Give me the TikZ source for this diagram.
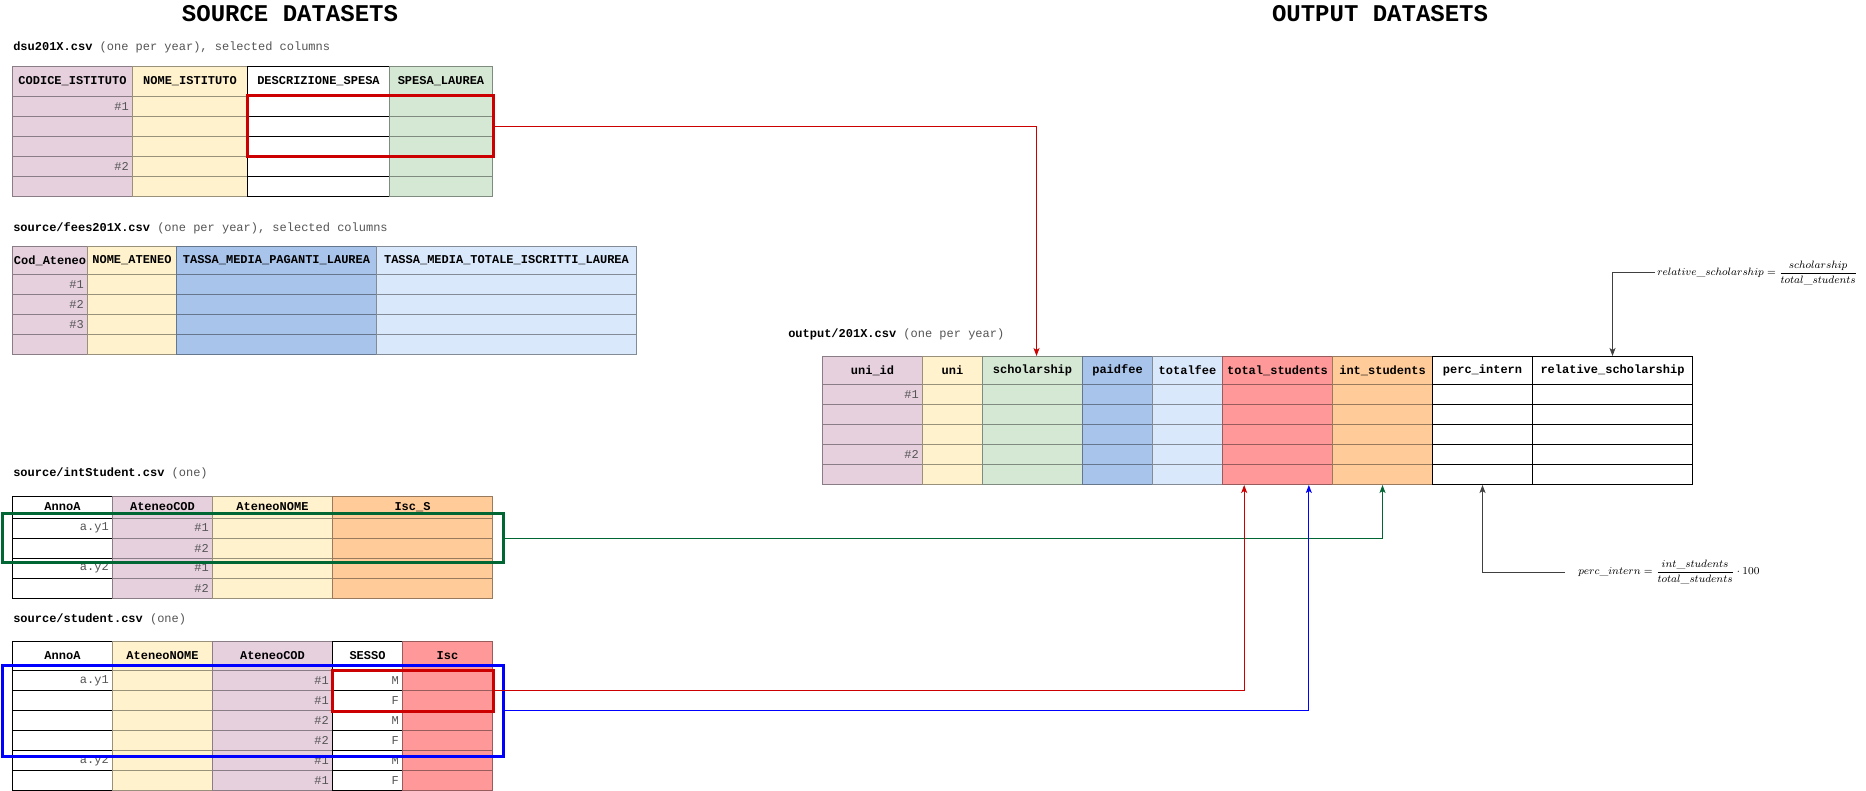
\documentclass[tikz,border=0pt]{standalone}
\usepackage{fontspec}
\newfontfamily\csvfont{Liberation Mono}
\usetikzlibrary{arrows.meta}
\usetikzlibrary{positioning}
\usetikzlibrary{fit}

\definecolor{pinkc}{HTML}{E6D0DE}
\definecolor{yellowc}{HTML}{FFF2CC}
\definecolor{greenc}{HTML}{D5E8D4}
\definecolor{bluec}{HTML}{A9C4EB}
\definecolor{lbluec}{HTML}{DAE8FC}
\definecolor{orangec}{HTML}{FFCC99}
\definecolor{redc}{HTML}{FF9999}
\colorlet{pinkd}{pinkc!60!black}
\colorlet{yellowd}{yellowc!60!black}
\colorlet{greend}{greenc!60!black}
\colorlet{blued}{bluec!60!black}
\colorlet{lblued}{lbluec!60!black}
\colorlet{oranged}{orangec!60!black}
\colorlet{redd}{redc!60!black}
\definecolor{valgray}{HTML}{555555}
\definecolor{hlred}{HTML}{CC0000}
\definecolor{hlgreen}{HTML}{006633}
\definecolor{hlblue}{HTML}{0000FF}

\begin{document}
\begin{tikzpicture}[x=0.75pt,y=-0.75pt,>={Stealth[length=6pt,width=4.5pt,inset=1.5pt]},
  hdr/.style={rectangle,anchor=north west,inner sep=0pt,line width=0.75pt,
    font=\csvfont\bfseries\fontsize{9}{10}\selectfont},
  cell/.style={rectangle,anchor=north west,inner sep=0pt,line width=0.75pt,minimum height=15pt},
  val/.style={anchor=east,inner xsep=3pt,inner ysep=0pt,text=valgray,
    font=\csvfont\fontsize{9}{10}\selectfont},
  capt/.style={anchor=west,inner sep=0pt,font=\csvfont\fontsize{9}{10}\selectfont},
  bigtitle/.style={inner sep=0pt,font=\csvfont\bfseries\fontsize{18}{20}\selectfont},
  hl/.style={rectangle,inner sep=0pt,line width=2.25pt},
  link/.style={->,line width=0.75pt},
  formula/.style={anchor=west,inner ysep=0pt,font=\fontsize{8.3}{10}\selectfont}]

  \path[fill=white] (0,0) rectangle (1866,791);
  \useasboundingbox (0,0) rectangle (1866,791);

  % titles
  \node[bigtitle] (t-src) at (290,13.5) {SOURCE DATASETS};
  \node[bigtitle] (t-out) at (1380,13.5) {OUTPUT DATASETS};

  % dsu201X.csv
  \node[capt] (c-dsu) at (13,47) {\textbf{dsu201X.csv} \textcolor{valgray}{(one per year), selected columns}};
  \foreach \cx/\cw/\cf/\cb/\ct [count=\i] in {12/120/pinkc/pinkd/CODICE\_ISTITUTO,
      132/115/yellowc/yellowd/NOME\_ISTITUTO, 247/142/white/black/DESCRIZIONE\_SPESA,
      389/103/greenc/greend/SPESA\_LAUREA}{
    \node[hdr,fill=\cf,draw=\cb,minimum width=\cw*0.75pt,minimum height=22.5pt] (dsu-\i) at (\cx,66) {\ct};
    \foreach \r in {1,...,5}
      \node[cell,fill=\cf,draw=\cb,minimum width=\cw*0.75pt] (dsu-\i-\r) at (\cx,{76+20*\r}) {};
  }
  \foreach \r/\v in {1/\#1,4/\#2}
    \node[val] (dsu-v\r) at (dsu-1-\r.east) {\v};

  % fees201X.csv
  \node[capt] (c-fees) at (13,228) {\textbf{source/fees201X.csv} \textcolor{valgray}{(one per year), selected columns}};
  \foreach \cx/\cw/\cf/\cb/\ct [count=\i] in {12/75/pinkc/pinkd/Cod\_Ateneo,
      87/89/yellowc/yellowd/NOME\_ATENEO, 176/200/bluec/blued/TASSA\_MEDIA\_PAGANTI\_LAUREA,
      376/260/lbluec/lblued/TASSA\_MEDIA\_TOTALE\_ISCRITTI\_LAUREA}{
    \node[hdr,fill=\cf,draw=\cb,minimum width=\cw*0.75pt,minimum height=21pt] (fees-\i) at (\cx,246) {\ct};
    \foreach \r in {1,...,4}
      \node[cell,fill=\cf,draw=\cb,minimum width=\cw*0.75pt] (fees-\i-\r) at (\cx,{254+20*\r}) {};
  }
  \foreach \r/\v in {1/\#1,2/\#2,3/\#3}
    \node[val] (fees-v\r) at (fees-1-\r.east) {\v};

  % intStudent.csv
  \node[capt] (c-int) at (13,473) {\textbf{source/intStudent.csv} \textcolor{valgray}{(one)}};
  \foreach \cx/\cw/\cf/\cb/\ct [count=\i] in {12/100/white/black/AnnoA,
      112/100/pinkc/pinkd/AteneoCOD, 212/120/yellowc/yellowd/AteneoNOME,
      332/160/orangec/oranged/Isc\_S}{
    \node[hdr,fill=\cf,draw=\cb,minimum width=\cw*0.75pt,minimum height=16.5pt] (int-\i) at (\cx,495.5) {\ct};
    \foreach \r in {1,...,4}
      \node[cell,fill=\cf,draw=\cb,minimum width=\cw*0.75pt] (int-\i-\r) at (\cx,{497.5+20*\r}) {};
  }
  \foreach \r/\v in {1/a.y1,3/a.y2}
    \node[val] (int-va\r) at (int-1-\r.east) {\v};
  \foreach \r/\v in {1/\#1,2/\#2,3/\#1,4/\#2}
    \node[val] (int-vb\r) at (int-2-\r.east) {\v};

  % student.csv
  \node[capt] (c-stu) at (13,619.5) {\textbf{source/student.csv} \textcolor{valgray}{(one)}};
  \foreach \cx/\cw/\cf/\cb/\ct [count=\i] in {12/100/white/black/AnnoA,
      112/100/yellowc/yellowd/AteneoNOME, 212/120/pinkc/pinkd/AteneoCOD,
      332/70/white/black/SESSO, 402/90/redc/redd/Isc}{
    \node[hdr,fill=\cf,draw=\cb,minimum width=\cw*0.75pt,minimum height=21.75pt] (stu-\i) at (\cx,641) {\ct};
    \foreach \r in {1,...,6}
      \node[cell,fill=\cf,draw=\cb,minimum width=\cw*0.75pt] (stu-\i-\r) at (\cx,{650+20*\r}) {};
  }
  \foreach \r/\v in {1/a.y1,5/a.y2}
    \node[val] (stu-va\r) at (stu-1-\r.east) {\v};
  \foreach \r/\v in {1/\#1,2/\#1,3/\#2,4/\#2,5/\#1,6/\#1}
    \node[val] (stu-vc\r) at (stu-3-\r.east) {\v};
  \foreach \r/\v in {1/M,2/F,3/M,4/F,5/M,6/F}
    \node[val] (stu-vs\r) at (stu-4-\r.east) {\v};

  % output/201X.csv
  \node[capt] (c-out) at (788,334) {\textbf{output/201X.csv} \textcolor{valgray}{(one per year)}};
  \foreach \cx/\cw/\cf/\cb/\ct [count=\i] in {822/100/pinkc/pinkd/uni\_id,
      922/60/yellowc/yellowd/uni, 982/100/greenc/greend/scholarship,
      1082/70/bluec/blued/paidfee, 1152/70/lbluec/lblued/totalfee,
      1222/110/redc/redd/total\_students, 1332/100/orangec/oranged/int\_students,
      1432/100/white/black/perc\_intern, 1532/160/white/black/relative\_scholarship}{
    \node[hdr,fill=\cf,draw=\cb,minimum width=\cw*0.75pt,minimum height=21pt] (out-\i) at (\cx,356) {\ct};
    \foreach \r in {1,...,5}
      \node[cell,fill=\cf,draw=\cb,minimum width=\cw*0.75pt] (out-\i-\r) at (\cx,{364+20*\r}) {};
  }
  \foreach \r/\v in {1/\#1,4/\#2}
    \node[val] (out-v\r) at (out-1-\r.east) {\v};

  % selections
  \node[hl,draw=hlred,fit=(dsu-3-1)(dsu-4-3)] (hl-dsu) {};
  \node[hl,draw=hlgreen,inner xsep=7.5pt,inner ysep=3pt,fit=(int-1-1)(int-4-2)] (hl-int) {};
  \node[hl,draw=hlblue,inner xsep=7.5pt,inner ysep=3.75pt,fit=(stu-1-1)(stu-5-4)] (hl-stu) {};
  \node[hl,draw=hlred,fit=(stu-4-1)(stu-5-2)] (hl-sex) {};

  % formulas
  \node[formula,inner xsep=9.75pt] (f-perc) at (1565,572)
    {$\displaystyle perc\_intern=\frac{int\_students}{total\_students}\cdot 100$};
  \node[formula,inner xsep=1.5pt] (f-rel) at (1655,273)
    {$\displaystyle relative\_scholarship=\frac{scholarship}{total\_students}$};

  % links
  \draw[link,hlred] (hl-dsu.east) -| ([xshift=3pt]out-3.north);
  \draw[link,hlgreen] (hl-int.east) -| (out-7-5.south);
  \draw[link,hlred] (hl-sex.east) -| ([xshift=-25pt]out-6-5.south);
  \draw[link,hlblue] (hl-stu.east) -| ([xshift=23.5pt]out-6-5.south);
  \draw[link,black!75] (f-perc.west) -| (out-8-5.south);
  \draw[link,black!75] (f-rel.west) -| (out-9.north);
\end{tikzpicture}
\end{document}
